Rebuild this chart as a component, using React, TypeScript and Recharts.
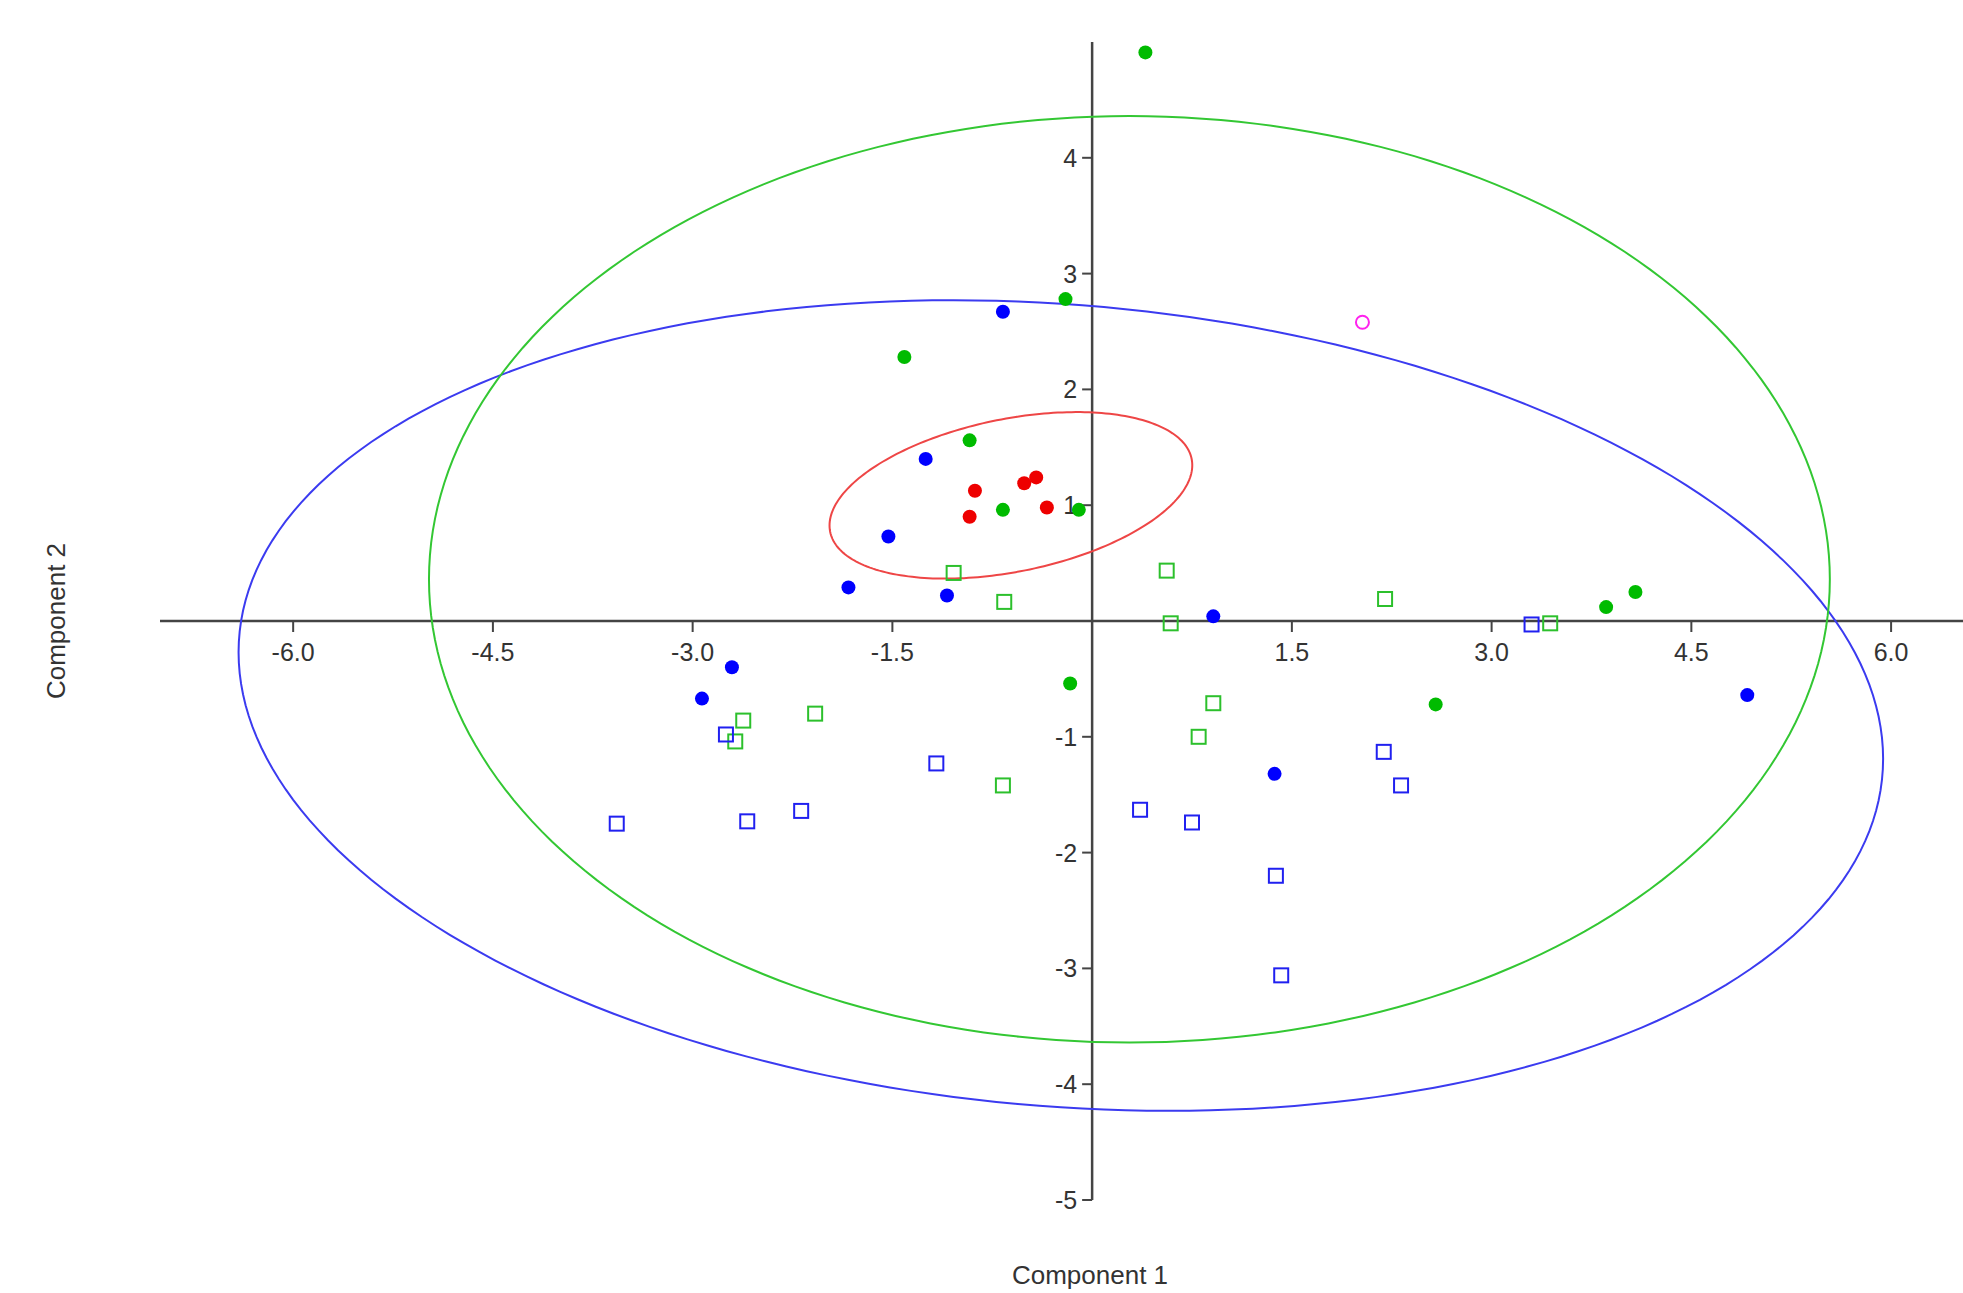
import React from "react"
import { ScatterChart, Scatter, XAxis, YAxis, ReferenceLine, ReferenceDot } from "recharts"

// scores: [component 1, component 2]
const greenFilled = [
  [0.4, 4.91], [-0.2, 2.78], [-1.41, 2.28], [-0.92, 1.56], [-0.67, 0.96],
  [-0.1, 0.96], [-0.165, -0.54], [2.58, -0.72], [3.86, 0.12], [4.08, 0.25],
]
const blueFilled = [
  [-0.67, 2.67], [-1.25, 1.4], [-1.53, 0.73], [-1.83, 0.29], [-1.09, 0.22],
  [-2.705, -0.4], [-2.93, -0.67], [0.91, 0.04], [1.37, -1.32], [4.92, -0.64],
]
const redFilled = [
  [-0.88, 1.125], [-0.92, 0.9], [-0.51, 1.19], [-0.42, 1.24], [-0.34, 0.98],
]
const magentaOpen = [[2.03, 2.58]]
const greenOpen = [
  [-1.04, 0.415], [-0.66, 0.165], [0.56, 0.435], [0.59, -0.02], [2.2, 0.19],
  [3.44, -0.02], [-2.62, -0.86], [-2.68, -1.04], [-2.08, -0.8], [-0.67, -1.42],
  [0.91, -0.71], [0.8, -1.0],
]
const blueOpen = [
  [3.3, -0.03], [-2.75, -0.98], [-1.17, -1.23], [-3.57, -1.75], [-2.59, -1.73],
  [-2.185, -1.64], [0.36, -1.63], [0.75, -1.74], [1.38, -2.2], [1.42, -3.06],
  [2.19, -1.13], [2.32, -1.42],
]

// ellipses: centre, half extent in x / y, y shift at the rightmost point
const blueEllipse = { cx: -0.235, cy: -0.73, rx: 6.175, ry: 3.5, tilt: -0.46 }
const greenEllipse = { cx: 0.28, cy: 0.36, rx: 5.26, ry: 4.0, tilt: 0 }
const redEllipse = { cx: -0.61, cy: 1.085, rx: 1.362, ry: 0.719, tilt: 0.26 }

const xTicks = [-6, -4.5, -3, -1.5, 1.5, 3, 4.5, 6]
const yTicks = [4, 3, 2, 1, -1, -2, -3, -4, -5]

const toPoints = (list: number[][]) => list.map(([x, y]) => ({ x, y }))

function outline(e: { cx: number; cy: number; rx: number; ry: number; tilt: number }) {
  const pts = []
  const b = Math.sqrt(e.ry * e.ry - e.tilt * e.tilt)
  for (let i = 0; i <= 240; i++) {
    const t = (i / 240) * Math.PI * 2
    pts.push({ x: e.cx + e.rx * Math.cos(t), y: e.cy + e.tilt * Math.cos(t) + b * Math.sin(t) })
  }
  return pts
}

const font = '"Liberation Sans", Arial, sans-serif'
const axisColor = "#444"

const dot = (color: string) => (p: any) => <circle cx={p.cx} cy={p.cy} r={7} fill={color} />
const ring = (color: string) => (p: any) => (
  <circle cx={p.cx} cy={p.cy} r={6.5} fill="none" stroke={color} strokeWidth={2} />
)
const box = (color: string) => (p: any) => (
  <rect x={p.cx - 7} y={p.cy - 7} width={14} height={14} fill="none" stroke={color} strokeWidth={2} />
)
const none = () => <g />

export default function App() {
  return (
    <div style={{ position: "absolute", left: 0, top: 0, width: 1963, height: 1293, fontFamily: font }}>
      <ScatterChart width={1963} height={1293} margin={{ top: 42, right: 0, bottom: 93, left: 160 }}>
        <XAxis type="number" dataKey="x" domain={[-7, 6.54]} hide allowDataOverflow />
        <YAxis type="number" dataKey="y" domain={[-5, 5]} hide allowDataOverflow />

        <ReferenceLine y={0} stroke={axisColor} strokeWidth={2.5} />
        <ReferenceLine x={0} stroke={axisColor} strokeWidth={2.5} />

        {xTicks.map((v) => (
          <ReferenceDot
            key={"x" + v}
            x={v}
            y={0}
            shape={(p: any) => (
              <g>
                <line x1={p.cx} y1={p.cy} x2={p.cx} y2={p.cy + 11} stroke={axisColor} strokeWidth={2} />
                <text x={p.cx} y={p.cy + 40} textAnchor="middle" fontSize={25} fill="#333" fontFamily={font}>
                  {v.toFixed(1)}
                </text>
              </g>
            )}
          />
        ))}
        {yTicks.map((v) => (
          <ReferenceDot
            key={"y" + v}
            x={0}
            y={v}
            shape={(p: any) => (
              <g>
                <line x1={p.cx - 10} y1={p.cy} x2={p.cx} y2={p.cy} stroke={axisColor} strokeWidth={2} />
                <text x={p.cx - 15} y={p.cy + 9} textAnchor="end" fontSize={25} fill="#333" fontFamily={font}>
                  {v}
                </text>
              </g>
            )}
          />
        ))}

        <Scatter data={outline(blueEllipse)} line={{ stroke: "#3b3bf0", strokeWidth: 2 }} lineType="joint" shape={none} isAnimationActive={false} />
        <Scatter data={outline(greenEllipse)} line={{ stroke: "#33c733", strokeWidth: 2 }} lineType="joint" shape={none} isAnimationActive={false} />
        <Scatter data={outline(redEllipse)} line={{ stroke: "#ee4646", strokeWidth: 2 }} lineType="joint" shape={none} isAnimationActive={false} />

        <Scatter data={toPoints(greenOpen)} shape={box("#2cc02c")} isAnimationActive={false} />
        <Scatter data={toPoints(blueOpen)} shape={box("#2020f0")} isAnimationActive={false} />
        <Scatter data={toPoints(magentaOpen)} shape={ring("#ff22ee")} isAnimationActive={false} />
        <Scatter data={toPoints(greenFilled)} shape={dot("#00bb00")} isAnimationActive={false} />
        <Scatter data={toPoints(blueFilled)} shape={dot("#0000ff")} isAnimationActive={false} />
        <Scatter data={toPoints(redFilled)} shape={dot("#ee0000")} isAnimationActive={false} />
      </ScatterChart>

      <div style={{ position: "absolute", left: 0, width: 2180, top: 1260, textAlign: "center", fontSize: 26, color: "#333", lineHeight: "30px" }}>
        Component 1
      </div>
      <div
        style={{
          position: "absolute",
          left: 56,
          top: 621,
          transform: "translate(-50%, -50%) rotate(-90deg)",
          fontSize: 26,
          color: "#333",
          whiteSpace: "nowrap",
          lineHeight: "30px",
        }}
      >
        Component 2
      </div>
    </div>
  )
}
